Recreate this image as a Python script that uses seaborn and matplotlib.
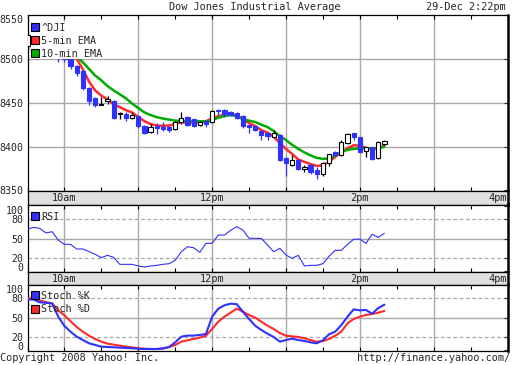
import numpy as np
import pandas as pd
import matplotlib
matplotlib.use("Agg")
import matplotlib.pyplot as plt
import seaborn as sns
from matplotlib.lines import Line2D
from matplotlib.ticker import MultipleLocator

# ---------------- data ----------------
times = pd.date_range("2008-12-29 09:30", periods=59, freq="5min")

open_ = [8515, 8529, 8522, 8519, 8516, 8515, 8505, 8500, 8492, 8486,
         8467, 8455, 8448, 8452, 8452, 8437, 8437.6, 8433, 8435, 8424,
         8417, 8424, 8422.6, 8422.6, 8420, 8427.6, 8434, 8431, 8424.5, 8429.5,
         8427.6, 8442, 8442, 8439, 8438, 8435, 8424.5, 8424, 8418, 8415,
         8411, 8413, 8387, 8379, 8385, 8374, 8379, 8373, 8368.5, 8381,
         8393.6, 8390, 8404, 8415.5, 8410.6, 8395.5, 8399.3, 8387, 8403]
close = [8527, 8522, 8519, 8516, 8514, 8505, 8500, 8492, 8484, 8467,
         8452, 8447, 8449, 8454, 8433, 8437.5, 8433, 8436, 8423, 8416,
         8422, 8421, 8420, 8419, 8428, 8433, 8424.5, 8424, 8428, 8426,
         8441, 8441, 8437, 8436, 8433, 8424, 8422, 8419, 8413, 8412,
         8415, 8385, 8381.5, 8385, 8374.6, 8377, 8371, 8368.5, 8381, 8391.6,
         8390, 8405, 8414.4, 8411.3, 8394.3, 8399.3, 8386, 8405, 8406]
high = [8528, 8530, 8524, 8521, 8518, 8516, 8507, 8501, 8493, 8487,
        8468, 8456, 8457, 8458, 8453, 8439, 8439, 8439, 8436, 8425,
        8426, 8427, 8428, 8424, 8429, 8439, 8435, 8432, 8429, 8430,
        8442, 8443, 8443, 8441, 8439, 8436, 8425, 8425, 8419, 8416,
        8419, 8414, 8388, 8391, 8386, 8379, 8380, 8377, 8382, 8392,
        8395, 8407, 8415, 8416, 8411, 8400, 8400, 8406, 8407]
low = [8508, 8510, 8515, 8512, 8510, 8497, 8496, 8488, 8481, 8465,
       8448, 8445, 8447, 8449, 8432, 8431, 8429, 8432, 8421, 8414,
       8416, 8414, 8418, 8417, 8419, 8426, 8423, 8422, 8423, 8422,
       8427, 8436, 8434, 8435, 8432, 8421, 8416, 8418, 8408, 8407,
       8410, 8384, 8366.5, 8378, 8373, 8371, 8369, 8363, 8367, 8378,
       8389, 8389, 8403, 8408, 8393, 8388, 8385, 8386, 8402]

ema5 = [np.nan] * 6 + [8507, 8503, 8500, 8488,
        8474, 8464, 8458, 8454, 8448, 8445, 8441.5, 8439, 8433.6, 8429,
        8425.7, 8424, 8423.8, 8424, 8425.7, 8428, 8427.4, 8427.4, 8428, 8429,
        8432, 8434.7, 8436.4, 8437, 8435.3, 8431.3, 8426.8, 8423.4, 8418.9, 8416,
        8411.5, 8404, 8397.4, 8391.7, 8385.3, 8382.7, 8380, 8378, 8378.7, 8382.7,
        8388.3, 8393.7, 8398, 8401.6, 8401.1, 8398.5, 8396.8, 8398, 8401.1]
ema10 = [np.nan] * 6 + [8512, 8507, 8502.6, 8496,
         8488.5, 8481, 8475.5, 8469, 8464, 8459.6, 8455, 8449, 8444, 8439,
         8436, 8433.6, 8432, 8430.8, 8429.6, 8429.4, 8429, 8429, 8429, 8428.5,
         8430, 8433, 8434.7, 8436, 8434.7, 8431.3, 8429.6, 8428, 8425, 8422.3,
         8417.8, 8412, 8407.6, 8402, 8397.4, 8393.4, 8390, 8387.2, 8386, 8386.7,
         8389.5, 8393.7, 8396.3, 8397.4, 8398, 8398, 8397.4, 8398, 8400]

rsi = [64.6, 67.7, 66, 59, 61, 48, 41.5, 41.5, 34.3, 34.3,
       30.2, 26.1, 21, 24.6, 21.5, 10.7, 10.7, 10.7, 8.2, 6.6,
       8.2, 9.2, 10.7, 11.7, 16.9, 30.2, 37.8, 36.3, 29.2, 43,
       43, 55.8, 55.8, 63, 68.6, 63.5, 50.8, 50.8, 50.6, 40.5,
       30.2, 35.4, 25, 20, 24.6, 8.2, 9.2, 9.2, 11.7, 23,
       32.3, 32.3, 41.5, 49.2, 49.5, 43, 57, 52.3, 58.5]

stoch_k = [78.4, 78, 73.8, 73, 72, 51.7, 37.4, 28.6, 21, 15.8,
           10.8, 8.2, 5.6, 5.1, 4.6, 4.1, 3.6, 3.1, 2.5, 2,
           2, 2, 3, 5, 12.3, 21, 22.6, 22.6, 23.6, 25,
           51.7, 64, 69.2, 71.7, 71, 59.4, 48.2, 37.8, 31.2, 25.5,
           20.5, 13.3, 15.8, 17.9, 15.8, 14.3, 12.3, 10.8, 15.4, 24.6,
           28.6, 38.9, 51.7, 63, 61.5, 62, 56.3, 65, 70.2]
stoch_d = [80, 80, 76.6, 74, 72.5, 61, 53.8, 44.6, 35.8, 28.6,
           22.5, 17.4, 13.3, 10.2, 8.7, 7.1, 5.6, 4.6, 3, 2.5,
           2, 2, 2.5, 5, 8.2, 13.3, 15.4, 17.4, 19.5, 22.5,
           32.8, 44, 51.7, 57.9, 64, 59.4, 54.3, 50.2, 44, 37.8,
           32.8, 26.6, 22.5, 21.5, 20.5, 18.5, 15.8, 13.3, 14, 17.4,
           22.5, 28.6, 41.5, 48.2, 51.7, 54.3, 55.8, 57.9, 60.5]

price_ticks = [8350, 8400, 8450, 8500, 8550]
osc_ticks = [0, 20, 50, 80, 100]
time_labels = {10: "10am", 12: "12pm", 14: "2pm", 16: "4pm"}
title = "Dow Jones Industrial Average"
stamp = "29-Dec 2:22pm"

# ---------------- style ----------------
sns.set_style("white")
plt.rcParams["font.family"] = ["DejaVu Sans Mono"]
FS = 7.1
LFS = 7.3
BLUE = "#3030ff"
RED = "#ff2a2a"
GREEN = "#00aa00"
GRID = "#a8a8a8"
BAND = "#e0e0e0"

df = pd.DataFrame({"t": times.hour + times.minute / 60.0,
                   "open": open_, "close": close, "high": high, "low": low,
                   "ema5": ema5, "ema10": ema10, "rsi": rsi,
                   "k": stoch_k, "d": stoch_d})

W, H = 512, 365
fig = plt.figure(figsize=(W / 100, H / 100), dpi=100)


def rect(top, bottom, left=27.5, right=507.5):
    return [left / W, 1 - bottom / H, (right - left) / W, (bottom - top) / H]


def fpos(x, y):
    return (x / W, 1 - y / H)


ax = fig.add_axes(rect(15, 190.5))
band1 = fig.add_axes(rect(190.5, 204.5))
axr = fig.add_axes(rect(204.5, 271.5))
band2 = fig.add_axes(rect(271.5, 284.5))
axs = fig.add_axes(rect(284.5, 350.5))

XL = (9.5, 16.0)
for a in (ax, band1, axr, band2, axs):
    a.set_xlim(*XL)
    for s in a.spines.values():
        s.set_color("black")
        s.set_linewidth(0.9)
    a.spines["right"].set_linewidth(1.8)

for a in (ax, axr, axs):
    a.xaxis.set_major_locator(MultipleLocator(1.0))
    a.xaxis.set_minor_locator(MultipleLocator(0.5))
    a.grid(axis="x", which="major", color=GRID, lw=1.0)
    a.tick_params(axis="x", which="both", direction="in", length=3, top=True,
                  bottom=True, labelbottom=False, color="black", width=0.8)
    a.tick_params(axis="y", which="major", left=False, right=True, direction="in",
                  length=3, labelleft=True, labelsize=FS, pad=3, width=0.8)
    a.set_axisbelow(True)

for b in (band1, band2):
    b.set_facecolor(BAND)
    b.set_yticks([])
    b.set_xticks([])
    b.set_ylim(0, 1)
    for h, lab in time_labels.items():
        b.text(h - (0.005 if h == 16 else 0), 0.45, lab, ha="right" if h == 16 else "center",
               va="center", fontsize=FS + 0.3)

# ---------------- main price panel ----------------
ax.set_ylim(8350, 8550)
ax.set_yticks(price_ticks)
ax.set_yticklabels([str(v) for v in price_ticks])
for v in price_ticks[1:-1]:
    ax.axhline(v, color=GRID, lw=1.0, zorder=0)

sns.lineplot(data=df, x="t", y="ema5", ax=ax, color=RED, lw=1.8, legend=False, zorder=2)
sns.lineplot(data=df, x="t", y="ema10", ax=ax, color=GREEN, lw=1.8, legend=False, zorder=2)

bw = 0.058
for _, r in df.iterrows():
    isup = r["close"] >= r["open"]
    col = "black" if isup else BLUE
    ax.vlines(r["t"], r["low"], r["high"], color=col, lw=0.9, zorder=3)
    bot = min(r["open"], r["close"])
    hgt = max(abs(r["close"] - r["open"]), 0.8)
    ax.bar(r["t"], hgt, bottom=bot, width=bw,
           color="white" if isup else BLUE,
           edgecolor="black" if isup else BLUE, linewidth=0.8, zorder=4)

ax.set_xlabel("")
ax.set_ylabel("")
labs = ax.get_yticklabels()
labs[-1].set_va("top")


def sq(c):
    return Line2D([], [], marker="s", ls="", markersize=5.2, markerfacecolor=c,
                  markeredgecolor="black", markeredgewidth=0.8)


leg_kw = dict(fontsize=LFS, borderpad=0.05, borderaxespad=0, handlelength=0.7,
              handletextpad=0.3, labelspacing=0.3, fancybox=False,
              bbox_transform=fig.transFigure, loc="upper left")

leg = ax.legend([sq(BLUE), sq(RED), sq(GREEN)], ["^DJI", "5-min EMA", "10-min EMA"],
                frameon=True, framealpha=1, facecolor="white", edgecolor="none",
                bbox_to_anchor=fpos(30.5, 22.0), **leg_kw)
leg.set_zorder(10)

# ---------------- RSI panel ----------------
axr.set_ylim(-0.3, 102.8)
axr.set_yticks(osc_ticks)
axr.set_yticklabels([str(v) for v in osc_ticks])
axr.axhline(50, color=GRID, lw=1.0, zorder=0)
for v in (20, 80):
    axr.axhline(v, color=GRID, lw=0.9, ls=(0, (3, 2)), zorder=0)
sns.lineplot(data=df, x="t", y="rsi", ax=axr, color=BLUE, lw=0.8, legend=False, zorder=3)
axr.set_xlabel("")
axr.set_ylabel("")
rl = axr.get_yticklabels()
rl[-1].set_va("top")
rl[0].set_va("baseline")
axr.legend([sq(BLUE)], ["RSI"], frameon=False, bbox_to_anchor=fpos(30.5, 211.5), **leg_kw)

# ---------------- Stochastic panel ----------------
axs.set_ylim(-0.3, 101.2)
axs.set_yticks(osc_ticks)
axs.set_yticklabels([str(v) for v in osc_ticks])
axs.axhline(50, color=GRID, lw=1.0, zorder=0)
for v in (20, 80):
    axs.axhline(v, color=GRID, lw=0.9, ls=(0, (3, 2)), zorder=0)
sns.lineplot(data=df, x="t", y="d", ax=axs, color=RED, lw=1.5, legend=False, zorder=3)
sns.lineplot(data=df, x="t", y="k", ax=axs, color=BLUE, lw=1.5, legend=False, zorder=4)
axs.set_xlabel("")
axs.set_ylabel("")
sl = axs.get_yticklabels()
sl[-1].set_va("top")
sl[0].set_va("baseline")
lg2 = axs.legend([sq(BLUE), sq(RED)], ["Stoch %K", "Stoch %D"], frameon=False,
                 bbox_to_anchor=fpos(30.5, 290.5), **leg_kw)
lg2.set_zorder(10)

# ---------------- figure text ----------------
fig.text(255 / W, 1 - 7.5 / H, title, ha="center", va="center", fontsize=FS + 0.3)
fig.text(506 / W, 1 - 7.5 / H, stamp, ha="right", va="center", fontsize=FS + 0.3)
fig.text(0.5 / W, 1 - 358 / H, "Copyright 2008 Yahoo! Inc.", ha="left", va="center",
         fontsize=FS + 0.3)
fig.text(510 / W, 1 - 358 / H, "http://finance.yahoo.com/", ha="right", va="center",
         fontsize=FS + 0.3)

fig.savefig("out.png", dpi=100, facecolor="white")
